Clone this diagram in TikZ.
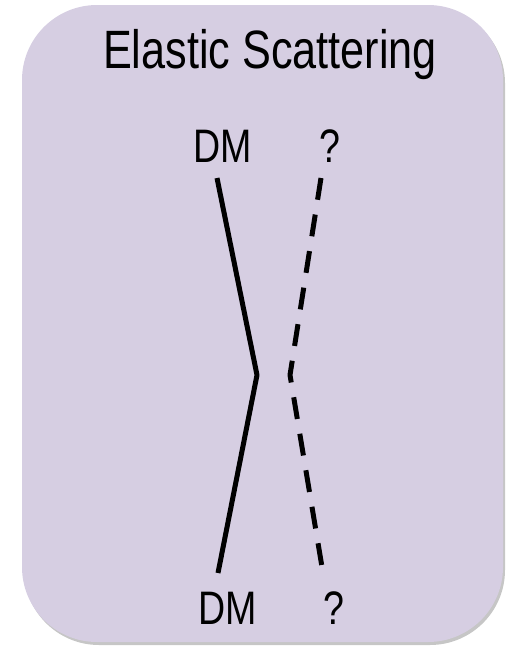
\documentclass[tikz,border=0pt]{standalone}
\usepackage{fontspec}
\setmainfont[FakeStretch=0.8]{Liberation Sans}
\usetikzlibrary{shadows}
\definecolor{boxfill}{RGB}{214,206,226}
\begin{document}
\begin{tikzpicture}[x=1pt, y=-1pt,
  label/.style={anchor=base, inner sep=0pt, font=\fontsize{47}{50}\selectfont},
  wire/.style={line width=5pt, line join=round}]
\useasboundingbox (0,0) rectangle (513,649);
\fill [boxfill, rounded corners=75pt, drop shadow={shadow xshift=2pt, shadow yshift=-3pt, opacity=0.45}]
  (22,5) rectangle (503,642);
\node [anchor=base, inner sep=0pt, font=\fontsize{54}{56}\selectfont] (title) at (270,68) {Elastic Scattering};
\node [label] (dmin) at (223,162) {DM};
\node [label] (qin) at (330,162) {?};
\node [label] (dmout) at (228,624) {DM};
\node [label] (qout) at (334,624) {?};
% end points of the two lines
\coordinate (dmstart) at (217,178);
\coordinate (dmkink) at (257,375);
\coordinate (dmend) at (218,573);
\coordinate (qstart) at (321,178);
\coordinate (qkink) at (290,375);
\coordinate (qend) at (323,573);
\draw [wire] (dmstart) -- (dmkink) -- (dmend);
\draw [wire, dash pattern=on 22pt off 15pt] (qstart) -- (qkink) -- (qend);
\end{tikzpicture}
\end{document}
